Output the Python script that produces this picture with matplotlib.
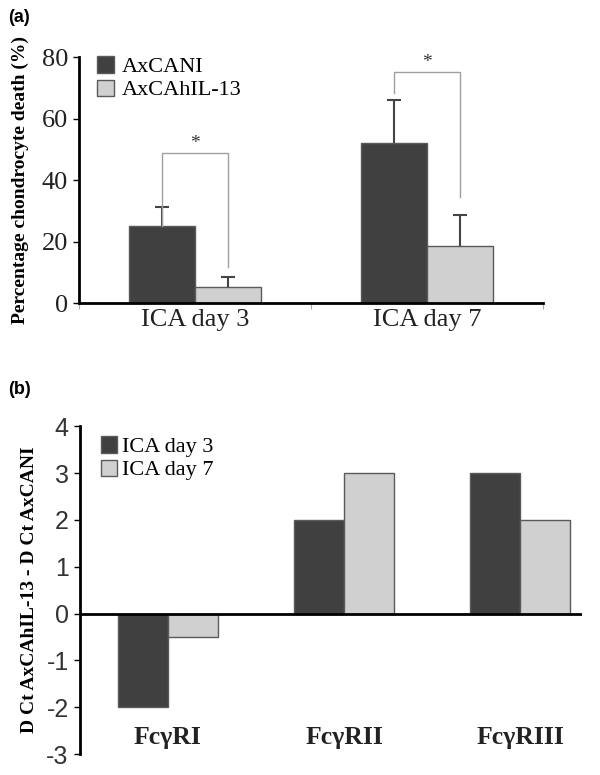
import numpy as np
import matplotlib.pyplot as plt
from matplotlib.patches import Patch

plt.rcParams['axes.unicode_minus'] = False

# panel (a) data
groups_a = ['ICA day 3', 'ICA day 7']
axcani = [25.0, 52.0]
axcani_err = [6.2, 14.0]
axcahil13 = [5.2, 18.5]
axcahil13_err = [3.3, 10.1]
ylabel_a = 'Percentage chondrocyte death (%)'

# panel (b) data
receptors = ['Fc\u03b3RI', 'Fc\u03b3RII', 'Fc\u03b3RIII']
day3 = [-2, 2, 3]
day7 = [-0.5, 3, 2]
ylabel_b = 'D Ct AxCAhIL-13 - D Ct AxCANI'

dark = '#404040'
light = '#d0d0d0'
edge = '#5a5a5a'
serif = 'Liberation Serif'
sans = 'Liberation Sans'

fig = plt.figure(figsize=(6, 7.75), dpi=100)

# ---------- (a) ----------
ax1 = fig.add_axes([0.132, 0.609, 0.773, 0.317])
x = np.arange(len(groups_a))
w = 0.285
ax1.bar(x - w / 2, axcani, w, color=dark, edgecolor=edge, lw=1)
ax1.bar(x + w / 2, axcahil13, w, color=light, edgecolor=edge, lw=1)

# upward-only error bars
for xs, vals, errs in [(x - w / 2, axcani, axcani_err), (x + w / 2, axcahil13, axcahil13_err)]:
    tops = np.array(vals) + np.array(errs)
    ax1.vlines(xs, vals, tops, color='#444444', lw=1.5)
    ax1.plot(xs, tops, ls='none', marker='_', ms=10, mew=1.5, color='#444444')

# significance brackets
brackets = [(0, 48.8, 25.0, 11.7), (1, 75.2, 68.3, 34.5)]
for i, top, left_end, right_end in brackets:
    ax1.plot([i - w / 2, i - w / 2, i + w / 2, i + w / 2],
             [left_end, top, top, right_end], color='#a0a0a0', lw=1)
    ax1.text(i, top + 0.5, '*', ha='center', va='bottom', fontsize=14,
             family=serif, color='#333333')

ax1.set_xlim(-0.5, 1.5)
ax1.set_ylim(0, 80)
ax1.set_yticks([0, 20, 40, 60, 80])
ax1.set_xticks(x)
ax1.set_xticklabels(groups_a)
ax1.set_xticks([-0.5, 0.5, 1.5], minor=True)
ax1.tick_params(axis='x', which='major', length=0, pad=4)
ax1.tick_params(axis='x', which='minor', length=4, color='#aaaaaa', width=0.8)
ax1.tick_params(axis='y', length=4, width=1, pad=4)
for lab in ax1.get_xticklabels() + ax1.get_yticklabels():
    lab.set_family(serif)
    lab.set_fontsize(19)
    lab.set_color('#222222')
for s in ['top', 'right']:
    ax1.spines[s].set_visible(False)
ax1.spines['left'].set_linewidth(2)
ax1.spines['bottom'].set_linewidth(2)
ax1.set_ylabel(ylabel_a, family=serif, fontweight='bold', fontsize=14, labelpad=9)
ax1.legend(handles=[Patch(facecolor=dark, edgecolor=edge), Patch(facecolor=light, edgecolor=edge)],
           labels=['AxCANI', 'AxCAhIL-13'], loc='upper left', bbox_to_anchor=(-0.005, 1.085),
           frameon=False, handlelength=0.75, handleheight=0.75, handletextpad=0.35,
           labelspacing=0.1, prop={'family': serif, 'size': 16})

# ---------- (b) ----------
ax2 = fig.add_axes([0.133, 0.027, 0.837, 0.423])
xb = np.arange(len(receptors))
wb = 0.284
ax2.bar(xb - wb / 2, day3, wb, color=dark, edgecolor=edge, lw=1, label='ICA day 3')
ax2.bar(xb + wb / 2, day7, wb, color=light, edgecolor=edge, lw=1, label='ICA day 7')
ax2.axhline(0, color='black', lw=2)
ax2.set_xlim(-0.5, 2.35)
ax2.set_ylim(-3, 4)
ax2.set_yticks(range(-3, 5))
ax2.set_xticks([])
for s in ['top', 'right', 'bottom']:
    ax2.spines[s].set_visible(False)
ax2.spines['left'].set_linewidth(2)
ax2.tick_params(axis='y', length=4, width=1, pad=4)
for lab in ax2.get_yticklabels():
    lab.set_family(sans)
    lab.set_fontsize(18)
    lab.set_color('#333333')
for i, name in enumerate(receptors):
    ax2.text(i, -2.65, name, ha='center', va='center', family=serif,
             fontweight='bold', fontsize=18.5, color='#222222')
ax2.set_ylabel(ylabel_b, family=serif, fontweight='bold', fontsize=14, labelpad=6)
ax2.legend(loc='upper left', bbox_to_anchor=(0.002, 1.03), frameon=False,
           handlelength=0.75, handleheight=0.75, handletextpad=0.2,
           labelspacing=0.1, prop={'family': serif, 'size': 16})

fig.text(0.013, 0.988, '(a)', fontweight='bold', fontsize=13, family=sans, va='top')
fig.text(0.013, 0.508, '(b)', fontweight='bold', fontsize=13, family=sans, va='top')

fig.savefig('out.png', dpi=100)
